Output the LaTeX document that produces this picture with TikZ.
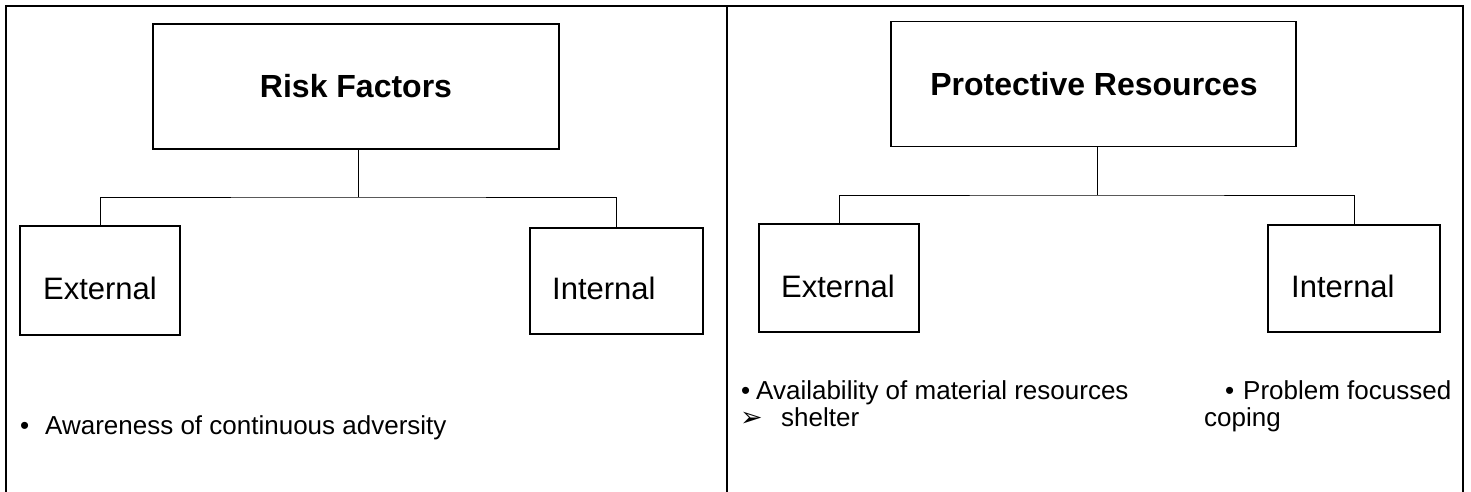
\documentclass[tikz,border=0pt]{standalone}
\usepackage{fontspec}
\setmainfont{Liberation Sans}
\newfontfamily\dingfont{DejaVu Sans}
\begin{document}
\begin{tikzpicture}[x=1pt,y=-1pt,
  frame/.style={line width=2pt,line cap=rect},
  box/.style={draw,line width=1.4pt,inner sep=0pt,outer sep=0pt},
  link/.style={line width=1pt},
  title/.style={inner sep=0pt,font=\fontsize{32}{38}\selectfont\bfseries},
  lbl/.style={inner sep=0pt,font=\fontsize{31}{37}\selectfont},
  note/.style={inner sep=0pt,anchor=base west,font=\fontsize{26}{31}\selectfont}]
\useasboundingbox (0,0) rectangle (1471,491);

% outer frame, open at the bottom, split into two panels
\coordinate (fTL) at (6,6);
\coordinate (fTR) at (1463,6);
\coordinate (fBL) at (6,491);
\coordinate (fBR) at (1463,491);
\coordinate (fTM) at (726.5,6);
\coordinate (fBM) at (726.5,491);
\draw[frame] (fBL) -- (fTL) -- (fTR) -- (fBR);
\draw[frame] (fTM) -- (fBM);

% ---------- left panel: risk factors ----------
\node[box,minimum width=406,minimum height=125] (risk) at (356,86.5) {};
\node[title] (riskT) at (356,86) {Risk Factors};
\node[box,minimum width=160,minimum height=109] (extL) at (100,280.5) {};
\node[lbl,anchor=base] (extLT) at (100,299) {External};
\node[box,minimum width=173,minimum height=106] (intL) at (616.5,281) {};
\node[lbl,anchor=base west] (intLT) at (552,299) {Internal};

\coordinate (jL) at (358.5,197);
\draw[link] (risk.south -| jL) -- (jL);
\draw[link] (extL.north) |- (jL) -| (intL.north);

\node[note] (bL1) at (20,434) {•};
\node[note] (tL1) at (45,434) {Awareness of continuous adversity};

% ---------- right panel: protective resources ----------
\node[box,minimum width=405,minimum height=125.5] (prot) at (1093.5,84) {};
\node[title] (protT) at (1094,84) {Protective Resources};
\node[box,minimum width=160,minimum height=108] (extR) at (839,278) {};
\node[lbl,anchor=base] (extRT) at (838,297) {External};
\node[box,minimum width=172,minimum height=107] (intR) at (1354,278.5) {};
\node[lbl,anchor=base west] (intRT) at (1291,297.5) {Internal};

\coordinate (jR) at (1097,195);
\draw[link] (prot.south -| jR) -- (jR);
\draw[link] (extR.north) |- (jR) -| (intR.north);

\node[note] (bR1) at (741,399) {•};
\node[note] (tR1) at (756,399) {Availability of material resources};
\node[note,font=\dingfont\fontsize{27}{32}\selectfont] (bR2) at (740,426) {➢};
\node[note] (tR2) at (781,426) {shelter};
\node[note] (bR3) at (1225,399) {•};
\node[note] (tR3) at (1243,399) {Problem focussed};
\node[note] (tR4) at (1204,426) {coping};
\end{tikzpicture}
\end{document}
